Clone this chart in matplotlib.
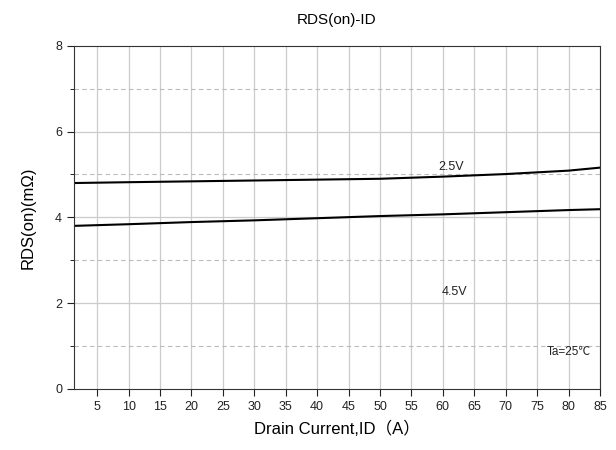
import matplotlib
matplotlib.use('Agg')
import matplotlib.pyplot as plt
import numpy as np

plt.rcParams['font.family'] = ['Liberation Sans', 'Noto Sans CJK SC', 'DejaVu Sans']

# drain current (A)
id_a = [1, 10, 20, 30, 40, 50, 60, 70, 80, 85]
# RDS(on) in mOhm
rds_25v = [4.80, 4.82, 4.84, 4.86, 4.88, 4.90, 4.95, 5.01, 5.09, 5.16]
rds_45v = [3.80, 3.84, 3.89, 3.93, 3.98, 4.03, 4.07, 4.12, 4.17, 4.19]

xticks = list(range(5, 90, 5))
yticks = [0, 2, 4, 6, 8]
yminor = [1, 3, 5, 7]

fig = plt.figure(figsize=(6.16, 4.5), dpi=100)
ax = fig.add_axes([0.120, 0.136, 0.854, 0.762])

for x in xticks:
    ax.axvline(x, color='#cccccc', lw=0.9, zorder=0)
for y in [2, 4, 6]:
    ax.axhline(y, color='#cccccc', lw=0.9, zorder=0)
for y in yminor:
    ax.axhline(y, color='#bbbbbb', lw=0.8, ls=(0, (4, 3)), zorder=0)

ax.plot(id_a, rds_25v, color='black', lw=1.5)
ax.plot(id_a, rds_45v, color='black', lw=1.5)

ax.text(59.3, 5.1, '2.5V', fontsize=9, color='#222222')
ax.text(59.8, 2.2, '4.5V', fontsize=9, color='#222222')
ax.text(76.5, 0.8, 'Ta=25℃', fontsize=8.5, color='#222222')

ax.set_xlim(1.3, 85)
ax.set_ylim(0, 8)
ax.set_xticks(xticks)
ax.set_yticks(yticks)
ax.set_yticks(yminor, minor=True)
ax.tick_params(axis='both', labelsize=9, direction='out', length=5, colors='#222222')
ax.tick_params(axis='y', which='minor', length=3)

for s in ['left', 'bottom', 'right', 'top']:
    ax.spines[s].set_color('#333333')

ax.set_xlabel('Drain Current,ID（A）', fontsize=12, labelpad=6)
ax.set_ylabel('RDS(on)(mΩ)', fontsize=12, labelpad=14)
ax.set_title('RDS(on)-ID', fontsize=11, pad=16)

fig.savefig('out.png', dpi=100)
